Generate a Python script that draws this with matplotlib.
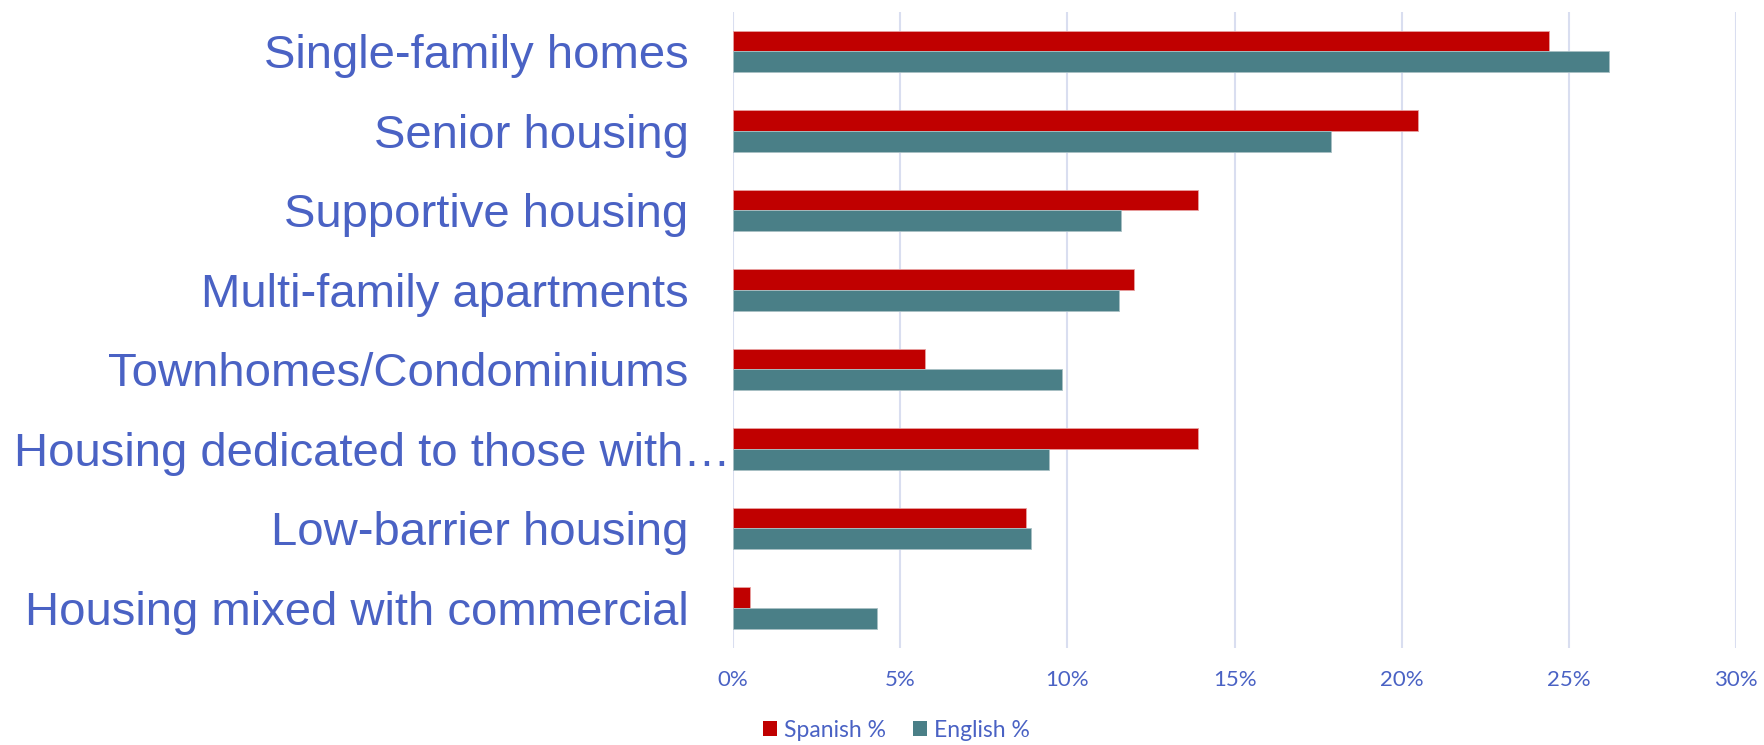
import numpy as np
import matplotlib
matplotlib.use("Agg")
import matplotlib.pyplot as plt
from matplotlib.transforms import ScaledTranslation
from matplotlib.patches import Patch

categories = ["Single-family homes", "Senior housing", "Supportive housing",
              "Multi-family apartments", "Townhomes/Condominiums",
              "Housing dedicated to those with…", "Low-barrier housing",
              "Housing mixed with commercial"]
spanish = [24.4, 20.5, 13.9, 12.0, 5.75, 13.9, 8.75, 0.5]
english = [26.2, 17.9, 11.6, 11.55, 9.85, 9.45, 8.9, 4.3]
xticks = [0, 5, 10, 15, 20, 25, 30]
xticklabels = ["0%", "5%", "10%", "15%", "20%", "25%", "30%"]
series_names = ["Spanish %", "English %"]

RED = "#C00000"
TEAL = "#4A7F87"
TXT = "#4A62C4"
GRID = "#D9DEF0"

fig = plt.figure(figsize=(17.65, 7.45), dpi=100)
ax = fig.add_axes([0.4153, 0.1307, 0.9836 - 0.4153, 0.9844 - 0.1307])

y = np.arange(len(categories))
h = 0.26
ax.barh(y - h / 2, spanish, height=h, color=RED, edgecolor="#E8A0A0", linewidth=0.6, zorder=3)
ax.barh(y + h / 2, english, height=h, color=TEAL, edgecolor="#A8C0C4", linewidth=0.6, zorder=3)

ax.set_xlim(0, 30)
ax.set_ylim(len(categories) - 0.5, -0.5)
ax.set_xticks(xticks)
ax.set_xticklabels(xticklabels, fontsize=16, color=TXT, family="Lato")
ax.set_yticks(y)
ax.set_yticklabels(categories, fontsize=34, color=TXT, family="Liberation Sans")
ax.tick_params(axis="x", length=0, pad=16)
ax.tick_params(axis="y", length=0, pad=32)
for lbl in ax.get_yticklabels():
    if lbl.get_text().endswith("…"):
        lbl.set_transform(lbl.get_transform() + ScaledTranslation(42 / 100, 0, fig.dpi_scale_trans))

ax.grid(axis="x", color=GRID, linewidth=1.5, zorder=0)
ax.set_axisbelow(True)
for s in ax.spines.values():
    s.set_visible(False)

handles = [Patch(facecolor=RED, edgecolor="none"), Patch(facecolor=TEAL, edgecolor="none")]
fig.legend(handles, series_names, loc="center", bbox_to_anchor=(0.508, 0.02), ncol=2,
           frameon=False, prop={"family": "Lato", "size": 16.5}, labelcolor=TXT,
           handlelength=0.6, handleheight=0.6, handletextpad=0.3, columnspacing=1.2,
           borderpad=0.0)

fig.savefig("out.png", dpi=100)
